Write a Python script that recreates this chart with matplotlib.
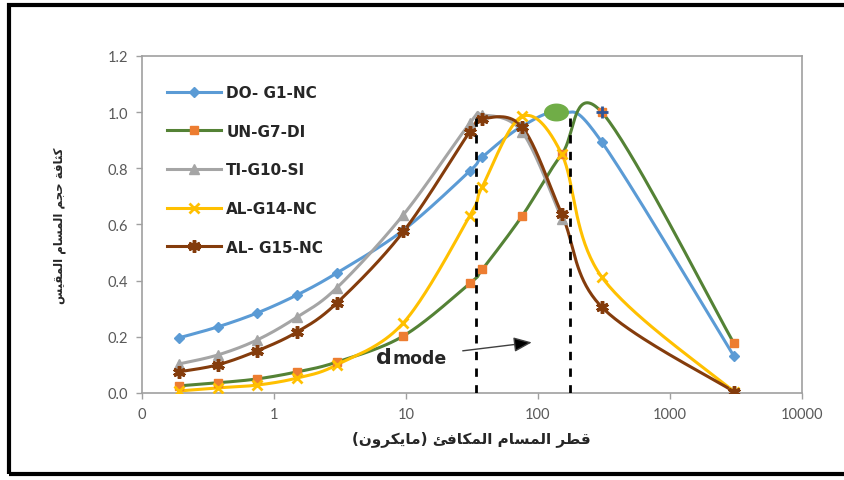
import numpy as np
import matplotlib
matplotlib.use("Agg")
import matplotlib.pyplot as plt
from matplotlib.patches import Rectangle
from matplotlib.path import Path

# ---------------- data ----------------
diam = [0.19, 0.375, 0.75, 1.5, 3.0, 9.6, 30.5, 38.0, 76.0, 152.0, 305.0, 3050.0]
do_g1 = [0.196, 0.235, 0.285, 0.349, 0.427, 0.58, 0.79, 0.84, 0.95, 1.0, 0.894, 0.132]
un_g7 = [0.025, 0.036, 0.05, 0.075, 0.11, 0.203, 0.39, 0.44, 0.63, 0.85, 1.0, 0.178]
ti_g10 = [0.103, 0.135, 0.189, 0.27, 0.374, 0.635, 0.96, 0.99, 0.93, 0.62]
al_g14 = [0.007, 0.018, 0.028, 0.053, 0.10, 0.25, 0.63, 0.735, 0.985, 0.85, 0.413, 0.005]
al_g15 = [0.075, 0.10, 0.15, 0.217, 0.32, 0.575, 0.93, 0.976, 0.947, 0.637, 0.306, 0.005]
series_names = ["DO- G1-NC", "UN-G7-DI", "TI-G10-SI", "AL-G14-NC", "AL- G15-NC"]
dmode_lines = [34.0, 175.0]
dmode_tops = [0.985, 1.005]
xtick_vals = [0.1, 1, 10, 100, 1000, 10000]
xtick_labels = ["0", "1", "10", "100", "1000", "10000"]
ytick_vals = [0.0, 0.2, 0.4, 0.6, 0.8, 1.0, 1.2]
xlabel_txt = "قطر المسام المكافئ (مايكرون)"
ylabel_txt = "كثافة حجم المسام المقيس"

# ---------------- arabic shaping ----------------
FORMS = {
    'ا': ('\uFE8D', '\uFE8E', None, None),
    'ئ': ('\uFE89', '\uFE8A', '\uFE8B', '\uFE8C'),
    'ة': ('\uFE93', '\uFE94', None, None),
    'ث': ('\uFE99', '\uFE9A', '\uFE9B', '\uFE9C'),
    'ج': ('\uFE9D', '\uFE9E', '\uFE9F', '\uFEA0'),
    'ح': ('\uFEA1', '\uFEA2', '\uFEA3', '\uFEA4'),
    'ر': ('\uFEAD', '\uFEAE', None, None),
    'س': ('\uFEB1', '\uFEB2', '\uFEB3', '\uFEB4'),
    'ط': ('\uFEC1', '\uFEC2', '\uFEC3', '\uFEC4'),
    'ف': ('\uFED1', '\uFED2', '\uFED3', '\uFED4'),
    'ق': ('\uFED5', '\uFED6', '\uFED7', '\uFED8'),
    'ك': ('\uFED9', '\uFEDA', '\uFEDB', '\uFEDC'),
    'ل': ('\uFEDD', '\uFEDE', '\uFEDF', '\uFEE0'),
    'م': ('\uFEE1', '\uFEE2', '\uFEE3', '\uFEE4'),
    'ن': ('\uFEE5', '\uFEE6', '\uFEE7', '\uFEE8'),
    'و': ('\uFEED', '\uFEEE', None, None),
    'ي': ('\uFEF1', '\uFEF2', '\uFEF3', '\uFEF4'),
}


def shape(text):
    out = []
    for i, c in enumerate(text):
        if c not in FORMS:
            out.append(c)
            continue
        prev = text[i - 1] if i > 0 else None
        nxt = text[i + 1] if i + 1 < len(text) else None
        jp = prev in FORMS and FORMS[prev][2] is not None
        jn = nxt in FORMS and FORMS[c][2] is not None
        iso, fin, ini, med = FORMS[c]
        out.append(med if (jp and jn) else fin if jp else ini if jn else iso)
    s = ''.join(out)[::-1]
    mirror = {'(': ')', ')': '('}
    return ''.join(mirror.get(ch, ch) for ch in s)


# ---------------- excel-like smoothing ----------------
def smooth(xs, ys, n=40):
    lx = np.log10(np.asarray(xs, float))
    y = np.asarray(ys, float)
    P = np.column_stack([lx, y])
    m = len(P)
    pts = []
    for i in range(m - 1):
        p0 = P[i - 1] if i > 0 else P[i]
        p1, p2 = P[i], P[i + 1]
        p3 = P[i + 2] if i + 2 < m else P[i + 1]
        c1 = p1 + (p2 - p0) / 6.0
        c2 = p2 - (p3 - p1) / 6.0
        t = np.linspace(0, 1, n)[:, None]
        seg = (1 - t) ** 3 * p1 + 3 * (1 - t) ** 2 * t * c1 + 3 * (1 - t) * t ** 2 * c2 + t ** 3 * p2
        pts.append(seg if i == 0 else seg[1:])
    pts = np.vstack(pts)
    return 10 ** pts[:, 0], pts[:, 1]


fig = plt.figure(figsize=(8.44, 4.81), dpi=100)
ax = fig.add_axes([0.168, 0.181, 0.782, 0.7005])

styles = [
    dict(color="#5B9BD5", marker="D", ms=5.5, mfc="#5B9BD5", mec="#5B9BD5", mew=1),
    dict(color="#548235", marker="s", ms=5.5, mfc="#ED7D31", mec="#ED7D31", mew=1),
    dict(color="#A5A5A5", marker="^", ms=7, mfc="#A5A5A5", mec="#A5A5A5", mew=1),
    dict(color="#FFC000", marker="x", ms=7, mfc="#FFC000", mec="#FFC000", mew=2),
    dict(color="#843C0C", marker=(6, 2, 0), ms=9, mfc="#843C0C", mec="#843C0C", mew=2.5),
]
data = [do_g1, un_g7, ti_g10, al_g14, al_g15]
order = [2, 0, 1, 3, 4]
handles = {}
for k in order:
    ys = data[k]
    xs = diam[:len(ys)]
    st = styles[k]
    sx, sy = smooth(xs, ys)
    ax.plot(sx, sy, color=st["color"], lw=2.2, zorder=3 + k * 0.1, solid_capstyle="round")
    ax.plot(xs, ys, ls="none", marker=st["marker"], ms=st["ms"], mfc=st["mfc"],
            mec=st["mec"], mew=st["mew"], zorder=4 + k * 0.1)
    h, = ax.plot([], [], color=st["color"], lw=2.2, marker=st["marker"], ms=st["ms"],
                 mfc=st["mfc"], mec=st["mec"], mew=st["mew"])
    handles[k] = h

# extra markers in the reference
th = np.linspace(0, 2 * np.pi, 60)
ell = Path(np.column_stack([np.cos(th), 0.7 * np.sin(th)]), closed=True)
ax.plot([diam[9] * 0.91], [do_g1[9]], marker=ell, ms=17, mfc="#70AD47", mec="#70AD47",
        zorder=6)
ax.plot([diam[10]], [un_g7[10]], marker="+", ms=9, mew=2, color="#2F5597", zorder=6)

# dmode dashed lines
for xv, top in zip(dmode_lines, dmode_tops):
    ax.plot([xv, xv], [0, top], ls=(0, (3, 3)), color="black", lw=2, zorder=7)

# dmode annotation
ax.annotate("", xy=(90, 0.18), xytext=(27, 0.15),
            arrowprops=dict(arrowstyle="-|>,head_length=1.1,head_width=0.45", color="#404040",
                            lw=1.0, shrinkA=0, shrinkB=0, fc="black"), zorder=8)
ax.text(7.9, 0.105, "d", fontsize=16, fontweight="bold", ha="right", va="baseline",
        color="#262626", family="DejaVu Sans")
ax.text(7.9, 0.105, "mode", fontsize=12.5, fontweight="bold", ha="left", va="baseline",
        color="#262626", family="DejaVu Sans")

ax.set_xscale("log")
ax.set_xlim(0.1, 10000)
ax.set_ylim(0, 1.2)
ax.set_xticks(xtick_vals)
ax.set_xticklabels(xtick_labels)
ax.xaxis.set_minor_locator(matplotlib.ticker.NullLocator())
ax.set_yticks(ytick_vals)
ax.set_yticklabels([f"{v:.1f}" for v in ytick_vals])
ax.tick_params(axis="both", direction="out", length=4, width=1, color="#A0A0A0",
               labelcolor="#595959", labelsize=10.5, pad=6)
for lab in ax.get_xticklabels() + ax.get_yticklabels():
    lab.set_family("Lato")
for sp in ax.spines.values():
    sp.set_color("#A0A0A0")
    sp.set_linewidth(1.2)

ax.set_xlabel(shape(xlabel_txt), fontsize=11, fontweight="bold", color="#262626",
              family="DejaVu Sans", labelpad=7)
ax.set_ylabel(shape(ylabel_txt), fontsize=8.5, fontweight="bold", color="#262626",
              family="DejaVu Sans", labelpad=30)

leg = ax.legend([handles[k] for k in range(5)], series_names, loc="upper left",
                bbox_to_anchor=(0.018, 0.955), frameon=False, handlelength=3.5,
                handletextpad=0.35, labelspacing=1.55,
                prop=dict(family="DejaVu Sans", weight="bold", size=11))
for t in leg.get_texts():
    t.set_color("#262626")

fig.add_artist(Rectangle((0.011, 0.012), 0.995, 0.975, transform=fig.transFigure,
                         fill=False, ec="black", lw=3))

fig.savefig("out.png", dpi=100)
